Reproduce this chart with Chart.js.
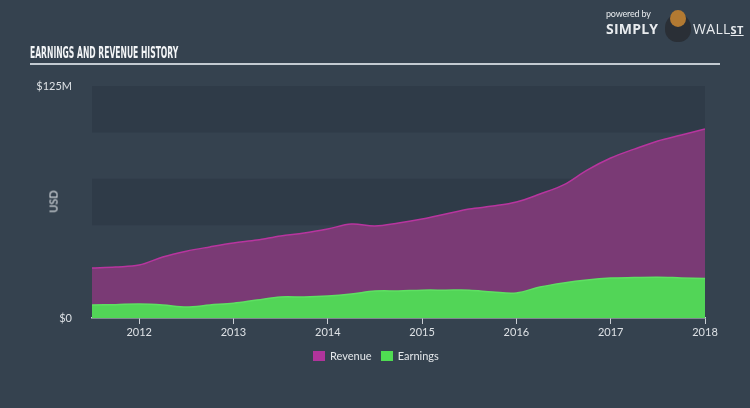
<!DOCTYPE html>
<html>
<head>
<meta charset="utf-8">
<script src="https://cdn.jsdelivr.net/npm/chart.js@4/dist/chart.umd.min.js"></script>
<style>
  html, body { margin: 0; padding: 0; background: #35424f; }
  #wrap { position: relative; width: 750px; height: 408px; overflow: hidden; font-family: Lato, "Open Sans", sans-serif; }
  #chart { position: absolute; left: 0; top: 0; }
  #title { position: absolute; left: 30px; top: 43px; color: #f2f4f6; font: bold 16px "Liberation Sans Narrow", "DejaVu Sans Condensed", sans-serif; transform: scaleX(0.53); transform-origin: left; white-space: nowrap; }
  #rule { position: absolute; left: 30px; top: 63px; width: 690px; height: 2px; background: #c3cad1; }
  #usd { position: absolute; left: 38px; top: 195px; width: 30px; text-align: center; font-size: 11px; color: #dde1e5; transform: rotate(-90deg); }
  #logo { position: absolute; left: 606px; top: 8px; color: #e8ebee; }
  #logo .pw { font-size: 9px; letter-spacing: -0.2px; }
  #logo .simply { position: absolute; left: 0; top: 11px; font: bold 14px "Open Sans", sans-serif; letter-spacing: 0.2px; }
  #logo .bull { position: absolute; left: 59px; top: 6px; width: 26px; height: 28px; border-radius: 50% 50% 45% 45%; background: #2a2f36; }
  #logo .face { position: absolute; left: 64px; top: 2px; width: 16px; height: 17px; border-radius: 50%; background: #b37a32; }
  #logo .wall { position: absolute; left: 87px; top: 11px; font: 14px "Open Sans", sans-serif; letter-spacing: 0.3px; white-space: nowrap; }
  #logo .wall u { font-weight: bold; font-size: 11px; }
  #legend { position: absolute; top: 349px; left: 313px; font-size: 11px; color: #e3e7ea; display: flex; }
  #legend span.item { display: flex; align-items: center; margin-right: 9px; }
  #legend i { display: inline-block; width: 12px; height: 10px; margin-right: 5px; }
</style>
</head>
<body>
<div id="wrap">
  <canvas id="chart" width="750" height="408"></canvas>
  <div id="title">EARNINGS AND REVENUE HISTORY</div>
  <div id="rule"></div>
  <div id="usd">USD</div>
  <div id="logo">
    <div class="pw">powered by</div>
    <div class="simply">SIMPLY</div>
    <div class="bull"></div>
    <div class="face"></div>
    <div class="wall">WALL<u>ST</u></div>
  </div>
  <div id="legend">
    <span class="item"><i style="background:#b0349b"></i>Revenue</span>
    <span class="item"><i style="background:#4fdc52"></i>Earnings</span>
  </div>
</div>
<script>
const periods = [2011.5, 2011.75, 2012, 2012.25, 2012.5, 2012.75, 2013, 2013.25, 2013.5, 2013.75,
  2014, 2014.25, 2014.5, 2014.75, 2015, 2015.25, 2015.5, 2015.75, 2016, 2016.25, 2016.5, 2016.75,
  2017, 2017.25, 2017.5, 2017.75, 2018];
const revenue = [26.9, 27.5, 28.5, 32.9, 36, 38.3, 40.4, 42, 44.2, 45.8,
  48, 50.6, 49.6, 51.2, 53.3, 56, 58.7, 60.3, 62.5, 66.8, 71.7, 79.7,
  86.2, 91, 95.4, 98.6, 101.8];
const earnings = [7, 7.2, 7.5, 7, 5.9, 7, 8, 9.7, 11.3, 11.3,
  11.8, 12.9, 14.5, 14.6, 15, 15, 15, 14, 13.5, 16.7, 18.9, 20.5,
  21.5, 21.8, 22, 21.6, 21.3];
const yTickLabels = { 0: "$0", 125: "$125M" };
const xYears = [2012, 2013, 2014, 2015, 2016, 2017, 2018];

const bandPlugin = {
  id: "bands",
  beforeDatasetsDraw(chart) {
    const { ctx, chartArea, scales } = chart;
    ctx.save();
    for (let v = 0; v < 125; v += 25) {
      if ((v / 25) % 2 === 0) {
        const y1 = scales.y.getPixelForValue(v);
        const y2 = scales.y.getPixelForValue(v + 25);
        ctx.fillStyle = "#2f3b48";
        ctx.fillRect(chartArea.left, y2, chartArea.right - chartArea.left, y1 - y2);
      }
    }
    ctx.restore();
  },
};

new Chart(document.getElementById("chart"), {
  type: "line",
  data: {
    datasets: [
      {
        label: "Earnings",
        data: periods.map((p, i) => ({ x: p, y: earnings[i] })),
        borderColor: "#5ee062",
        backgroundColor: "#52d557",
        borderWidth: 1.5,
        fill: "origin",
        tension: 0.35,
        pointRadius: 0,
      },
      {
        label: "Revenue",
        data: periods.map((p, i) => ({ x: p, y: revenue[i] })),
        borderColor: "#b8359f",
        backgroundColor: "#7a3a75",
        borderWidth: 1.5,
        fill: "origin",
        tension: 0.35,
        pointRadius: 0,
      },
    ],
  },
  options: {
    responsive: false,
    animation: false,
    layout: { padding: { top: 86, right: 45, bottom: 62, left: 0 } },
    plugins: { legend: { display: false }, tooltip: { enabled: false } },
    scales: {
      x: {
        type: "linear",
        min: 2011.5,
        max: 2018,
        afterBuildTicks: (axis) => { axis.ticks = xYears.map((v) => ({ value: v })); },
        afterFit: (axis) => { axis.height = 28; },
        border: { display: true, color: "#c9ced4", width: 1.5 },
        grid: { display: true, drawOnChartArea: false, drawTicks: true, tickLength: 6, color: "#c9ced4" },
        ticks: { color: "#dde1e5", font: { family: "Lato", size: 11 }, padding: 2, callback: (v) => String(v), maxRotation: 0 },
      },
      y: {
        min: 0,
        max: 125,
        afterBuildTicks: (axis) => { axis.ticks = [{ value: 0 }, { value: 125 }]; },
        afterFit: (axis) => { axis.width = 92; },
        border: { display: false },
        grid: { display: false },
        ticks: { color: "#dde1e5", font: { family: "Lato", size: 11 }, padding: 12, callback: (v) => yTickLabels[v] },
      },
    },
  },
  plugins: [bandPlugin],
});
</script>
</body>
</html>
